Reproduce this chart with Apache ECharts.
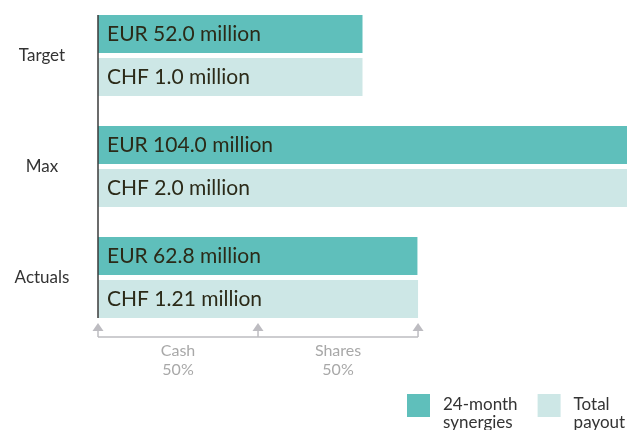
<!DOCTYPE html>
<html>
<head>
<meta charset="utf-8">
<script src="https://cdn.jsdelivr.net/npm/echarts@6/dist/echarts.min.js"></script>
<style>
html, body { margin: 0; padding: 0; background: #fff; }
#main { width: 629px; height: 430px; }
</style>
</head>
<body>
<div id="main"></div>
<script>
// data
const categories = ["Target", "Max", "Actuals"];
const synergies = [52.0, 104.0, 62.8];      // EUR million
const payout = [1.0, 2.0, 1.21];            // CHF million
const synergyLabels = ["EUR 52.0 million", "EUR 104.0 million", "EUR 62.8 million"];
const payoutLabels = ["CHF 1.0 million", "CHF 2.0 million", "CHF 1.21 million"];
const splitNames = ["Cash", "Shares"];
const splitShares = [50, 50];               // % of actual payout

const FONT = "Lato";
const TEAL = "#5fbfbb";
const LIGHT = "#cde7e6";
const GREY = "#bdbcc1";

// bars are drawn relative to the maximum of each series
const synMax = Math.max.apply(null, synergies);
const payMax = Math.max.apply(null, payout);

const chart = echarts.init(document.getElementById("main"));

const barLabel = (labels) => ({
  show: true,
  position: "insideLeft",
  distance: 9,
  color: "#2b2a18",
  fontFamily: FONT,
  fontSize: 21,
  formatter: p => labels[p.dataIndex]
});

chart.setOption({
  animation: false,
  textStyle: { fontFamily: FONT },
  grid: { left: 98, right: 2, top: -1, height: 334 },
  xAxis: { type: "value", min: 0, max: 100, show: false },
  yAxis: {
    type: "category",
    data: categories,
    inverse: true,
    axisLine: { show: false },
    axisTick: { show: false },
    axisLabel: { color: "#333", fontSize: 17, align: "center", margin: 56, fontFamily: FONT }
  },
  legend: {
    left: 407,
    top: 394,
    width: 222,
    padding: 0,
    icon: "rect",
    itemWidth: 23,
    itemHeight: 23,
    itemGap: 20,
    data: ["24-month synergies", "Total payout"],
    formatter: name => {
      const lines = name === "24-month synergies" ? ["24-month", "synergies"] : ["Total", "payout"];
      return "{a|" + lines[0] + "}\n{b|" + lines[1] + "}";
    },
    textStyle: {
      color: "#333", fontSize: 17, fontFamily: FONT, padding: [0, 0, 0, 8],
      rich: {
        a: { fontSize: 17, color: "#333", fontFamily: FONT, lineHeight: 35, verticalAlign: "bottom" },
        b: { fontSize: 17, color: "#333", fontFamily: FONT, lineHeight: 19 }
      }
    }
  },
  series: [
    {
      name: "24-month synergies",
      type: "bar",
      barWidth: 38,
      barGap: "13%",
      itemStyle: { color: TEAL },
      label: barLabel(synergyLabels),
      data: synergies.map(v => v / synMax * 100)
    },
    {
      name: "Total payout",
      type: "bar",
      barWidth: 38,
      itemStyle: { color: LIGHT },
      label: barLabel(payoutLabels),
      data: payout.map(v => v / payMax * 100)
    }
  ]
});

// axis line, and the cash / shares bracket under the actuals bar
const x0 = chart.convertToPixel({ xAxisIndex: 0 }, 0);
const actPct = payout[2] / payMax * 100;
const splitX = [0];
splitShares.forEach((s, i) => splitX.push(splitX[i] + actPct * s / 100));
const px = splitX.map(v => chart.convertToPixel({ xAxisIndex: 0 }, v));
const yTop = chart.convertToPixel({ yAxisIndex: 0 }, categories[0]) - 40.5;
const yBot = chart.convertToPixel({ yAxisIndex: 0 }, categories[2]) + 40.5;

const graphics = [{
  type: "line",
  shape: { x1: x0, y1: yTop, x2: x0, y2: yBot },
  style: { stroke: "#3a3a3a", lineWidth: 1.5 },
  z: 10
}];
const arrowY = yBot + 5;
px.forEach(x => {
  graphics.push({
    type: "polygon",
    shape: { points: [[x, arrowY], [x - 5.5, arrowY + 8], [x + 5.5, arrowY + 8]] },
    style: { fill: GREY }
  });
  graphics.push({
    type: "line",
    shape: { x1: x, y1: arrowY + 8, x2: x, y2: arrowY + 14 },
    style: { stroke: GREY, lineWidth: 1.5 }
  });
});
graphics.push({
  type: "line",
  shape: { x1: px[0], y1: arrowY + 14, x2: px[px.length - 1], y2: arrowY + 14 },
  style: { stroke: GREY, lineWidth: 1.5 }
});
splitNames.forEach((n, i) => {
  graphics.push({
    type: "text",
    x: (px[i] + px[i + 1]) / 2,
    y: arrowY + 18,
    style: {
      text: n + "\n" + splitShares[i] + "%",
      fill: "#a8a8a8",
      fontSize: 16,
      lineHeight: 19,
      fontFamily: FONT,
      align: "center",
      verticalAlign: "top"
    }
  });
});
chart.setOption({ graphic: graphics });
</script>
</body>
</html>
